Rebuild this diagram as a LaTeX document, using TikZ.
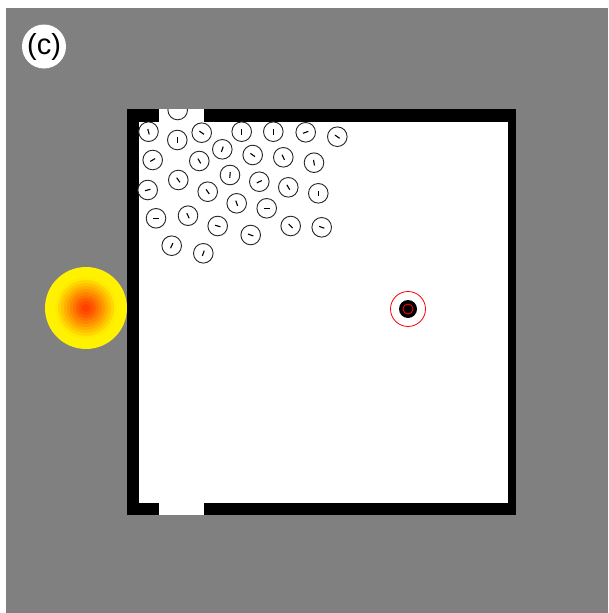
\documentclass[tikz,border=0pt]{standalone}
\usepackage{fontspec}
\setmainfont{Liberation Sans}
\definecolor{bg}{RGB}{128,128,128}
\begin{document}
\begin{tikzpicture}[x=1pt,y=-1pt,
  particle/.style={draw=black!85,line width=0.9pt,fill=white},
  tick/.style={line width=1.1pt,draw=black},
  wall/.style={fill=black},
  floor/.style={fill=white}]
\useasboundingbox (0,0) rectangle (608,613);
\fill[white] (0,0) rectangle (608,613);
\fill[bg] (6,8) rectangle (608,613);
% arena
\fill[wall] (127,109) rectangle (516,515);
\fill[floor] (139,122) rectangle (508,503);
\fill[floor] (159,109) rectangle (204,122);
\fill[floor] (159,503) rectangle (204,515);
% particles
\begin{scope}
\clip (127,109) rectangle (516,515);
\draw[particle] (177.7,110) circle (9.8);
\foreach \x/\y/\a in {
 148.5/131.7/-75, 177.3/140/90, 201.7/132.7/-35, 241.7/131.7/90, 273.3/131.7/90,
 305.7/132.3/20, 337.3/136.7/-35, 222.3/149.3/70, 252.7/155/-35, 283.3/157.3/-65,
 314/162.7/-80, 152.7/160/30, 199.3/161/-60, 178.3/180/-55, 230/175/85,
 259.3/181.7/25, 288.3/187.3/-60, 318.3/193.3/90, 147.7/190/15, 207.7/191.7/-55,
 236.7/203.3/-70, 266.7/208.3/0, 156/218.3/0, 188/215.7/-65, 217.7/226/-15,
 250.7/235/-20, 290.7/226/-45, 321.7/227.3/-20, 171.7/245.7/65, 203.3/253.3/70}
{
  \draw[particle] (\x,\y) circle (9.8);
  \draw[tick,shift={(\x,\y)},rotate=\a] (-2.8,0) -- (2.8,0);
}
\end{scope}
% heat source
\fill[yellow] (86,308) circle (41);
\foreach \r/\g in {31/235,28/215,25/195,22/175,19/155,16/135,13/115,10/95,7/80,4/65}{
  \definecolor{band}{RGB}{255,\g,0}
  \fill[band] (86,308) circle (\r);
}
% robot
\fill[black] (408,309) circle (9);
\draw[red,line width=0.9pt] (408,309) circle (5);
\draw[red,line width=0.8pt] (408,309) circle (17.5);
% label
\fill[white] (44,46.5) circle (22);
\node[font=\fontsize{29}{32}\selectfont,inner sep=0pt] (lbl) at (44,47) {(c)};
\end{tikzpicture}
\end{document}
